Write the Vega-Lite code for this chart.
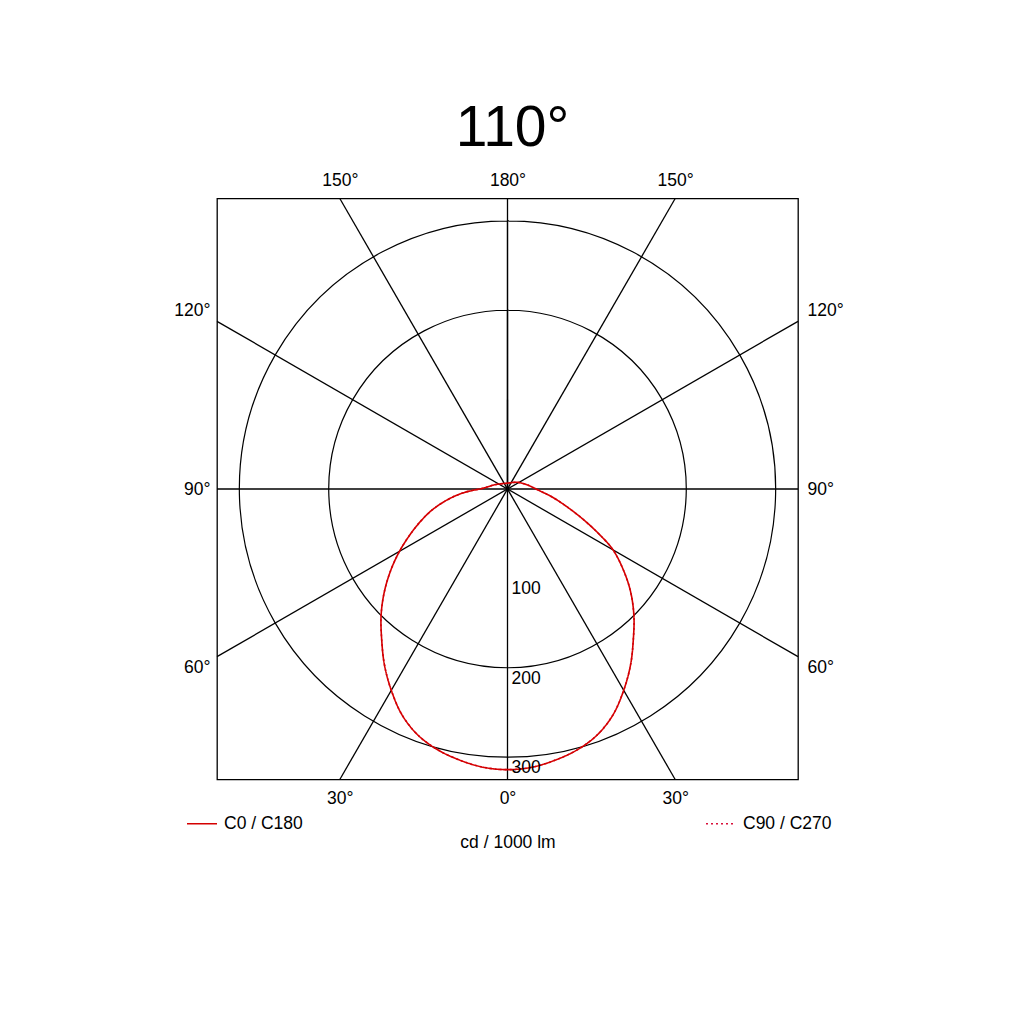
{
  "$schema": "https://vega.github.io/schema/vega-lite/v6.json",
  "width": 581,
  "height": 581,
  "autosize": {"type": "none"},
  "padding": {"left": 217, "top": 198.5, "right": 226, "bottom": 244.5},
  "background": "white",
  "title": {
    "text": "110°",
    "fontSize": 57,
    "font": "Liberation Sans",
    "fontWeight": "normal",
    "color": "black",
    "anchor": "middle",
    "baseline": "alphabetic",
    "offset": -31,
    "dx": 5
  },
  "config": {
    "view": {"stroke": "black", "strokeWidth": 1.3},
    "font": "Liberation Sans",
    "axis": {
      "domain": false,
      "ticks": false,
      "grid": false,
      "labelFont": "Liberation Sans",
      "labelFontSize": 17.5,
      "labelColor": "black",
      "labelAngle": 0,
      "labelOverlap": false,
      "labelBound": false,
      "labelFlush": false,
      "title": null
    },
    "legend": {
      "orient": "none",
      "legendX": -31,
      "legendY": 609,
      "direction": "horizontal",
      "columns": 2,
      "columnPadding": 399,
      "symbolType": "stroke",
      "symbolSize": 900,
      "symbolStrokeWidth": 1.6,
      "labelFont": "Liberation Sans",
      "labelFontSize": 17.5,
      "labelColor": "black",
      "labelOffset": 6,
      "title": null
    }
  },
  "resolve": {"axis": {"x": "independent", "y": "independent"}},
  "layer": [
    {
      "data": {"values": [{"r": 100}, {"r": 200}, {"r": 300}]},
      "mark": {"type": "arc", "filled": false, "stroke": "black", "strokeWidth": 1.2, "theta": 0, "theta2": 6.28318},
      "encoding": {
        "radius": {"field": "r", "type": "quantitative", "stack": null, "scale": {"type": "linear", "zero": true, "domain": [0, 325], "range": [0, 290.5]}}
      }
    },
    {
      "data": {"values": [
        {"x1": 0, "y1": -325, "x2": 0, "y2": 325},
        {"x1": -325, "y1": 0, "x2": 325, "y2": 0},
        {"x1": -187.6, "y1": -325, "x2": 187.6, "y2": 325},
        {"x1": 187.6, "y1": -325, "x2": -187.6, "y2": 325},
        {"x1": -325, "y1": -187.6, "x2": 325, "y2": 187.6},
        {"x1": 325, "y1": -187.6, "x2": -325, "y2": 187.6}
      ]},
      "mark": {"type": "rule", "color": "black", "strokeWidth": 1.3},
      "encoding": {
        "x": {"field": "x1", "type": "quantitative", "scale": {"domain": [-325, 325], "nice": false, "zero": false},
              "axis": {"orient": "bottom", "values": [-187.6, 0, 187.6], "labelPadding": 10,
                       "labelExpr": "datum.value == 0 ? '0°' : '30°'",
                       "title": "cd / 1000 lm", "titleFont": "Liberation Sans", "titleFontSize": 17.5,
                       "titleFontWeight": "normal", "titleColor": "black", "titlePadding": 26}},
        "y": {"field": "y1", "type": "quantitative", "scale": {"domain": [-325, 325], "nice": false, "zero": false, "reverse": true},
              "axis": {"orient": "left", "values": [-200, 0, 200], "labelPadding": 7,
                       "labelExpr": "datum.value == 0 ? '90°' : (datum.value > 0 ? '60°' : '120°')"}},
        "x2": {"field": "x2"},
        "y2": {"field": "y2"}
      }
    },
    {
      "data": {"values": [
        {"series": "C90 / C270", "o": 1, "x": 0, "y": -6.5},
        {"series": "C90 / C270", "o": 2, "x": -13, "y": -5},
        {"series": "C90 / C270", "o": 3, "x": -27, "y": -1},
        {"series": "C90 / C270", "o": 4, "x": -50, "y": 4.4},
        {"series": "C90 / C270", "o": 5, "x": -68, "y": 12.5},
        {"series": "C90 / C270", "o": 6, "x": -85, "y": 24},
        {"series": "C90 / C270", "o": 7, "x": -98, "y": 37},
        {"series": "C90 / C270", "o": 8, "x": -109, "y": 51},
        {"series": "C90 / C270", "o": 9, "x": -121, "y": 70},
        {"series": "C90 / C270", "o": 10, "x": -131, "y": 92},
        {"series": "C90 / C270", "o": 11, "x": -138, "y": 116},
        {"series": "C90 / C270", "o": 12, "x": -141.4, "y": 141.4},
        {"series": "C90 / C270", "o": 13, "x": -140.8, "y": 167.8},
        {"series": "C90 / C270", "o": 14, "x": -137.7, "y": 196.6},
        {"series": "C90 / C270", "o": 15, "x": -130, "y": 225.2},
        {"series": "C90 / C270", "o": 16, "x": -117.9, "y": 252.9},
        {"series": "C90 / C270", "o": 17, "x": -100.2, "y": 275.3},
        {"series": "C90 / C270", "o": 18, "x": -78.2, "y": 291.7},
        {"series": "C90 / C270", "o": 19, "x": -53.5, "y": 303.3},
        {"series": "C90 / C270", "o": 20, "x": -27.2, "y": 311.3},
        {"series": "C90 / C270", "o": 21, "x": 0, "y": 314},
        {"series": "C90 / C270", "o": 22, "x": 27.2, "y": 311.3},
        {"series": "C90 / C270", "o": 23, "x": 53.5, "y": 303.3},
        {"series": "C90 / C270", "o": 24, "x": 78.2, "y": 291.7},
        {"series": "C90 / C270", "o": 25, "x": 100.2, "y": 275.3},
        {"series": "C90 / C270", "o": 26, "x": 117.9, "y": 252.9},
        {"series": "C90 / C270", "o": 27, "x": 130, "y": 225.2},
        {"series": "C90 / C270", "o": 28, "x": 137.7, "y": 196.6},
        {"series": "C90 / C270", "o": 29, "x": 140.8, "y": 167.8},
        {"series": "C90 / C270", "o": 30, "x": 141.4, "y": 141.4},
        {"series": "C90 / C270", "o": 31, "x": 137.5, "y": 114},
        {"series": "C90 / C270", "o": 32, "x": 129.4, "y": 90},
        {"series": "C90 / C270", "o": 33, "x": 118, "y": 68},
        {"series": "C90 / C270", "o": 34, "x": 103, "y": 51},
        {"series": "C90 / C270", "o": 35, "x": 84.7, "y": 34},
        {"series": "C90 / C270", "o": 36, "x": 66, "y": 19.5},
        {"series": "C90 / C270", "o": 37, "x": 50, "y": 9},
        {"series": "C90 / C270", "o": 38, "x": 36, "y": 2},
        {"series": "C90 / C270", "o": 39, "x": 21, "y": -5},
        {"series": "C90 / C270", "o": 40, "x": 11, "y": -7.5},
        {"series": "C90 / C270", "o": 41, "x": 0, "y": -6.5},
        {"series": "C0 / C180", "o": 1, "x": 0, "y": -6.5},
        {"series": "C0 / C180", "o": 2, "x": -13, "y": -5},
        {"series": "C0 / C180", "o": 3, "x": -27, "y": -1},
        {"series": "C0 / C180", "o": 4, "x": -50, "y": 4.4},
        {"series": "C0 / C180", "o": 5, "x": -68, "y": 12.5},
        {"series": "C0 / C180", "o": 6, "x": -85, "y": 24},
        {"series": "C0 / C180", "o": 7, "x": -98, "y": 37},
        {"series": "C0 / C180", "o": 8, "x": -109, "y": 51},
        {"series": "C0 / C180", "o": 9, "x": -121, "y": 70},
        {"series": "C0 / C180", "o": 10, "x": -131, "y": 92},
        {"series": "C0 / C180", "o": 11, "x": -138, "y": 116},
        {"series": "C0 / C180", "o": 12, "x": -141.4, "y": 141.4},
        {"series": "C0 / C180", "o": 13, "x": -140.8, "y": 167.8},
        {"series": "C0 / C180", "o": 14, "x": -137.7, "y": 196.6},
        {"series": "C0 / C180", "o": 15, "x": -130, "y": 225.2},
        {"series": "C0 / C180", "o": 16, "x": -117.9, "y": 252.9},
        {"series": "C0 / C180", "o": 17, "x": -100.2, "y": 275.3},
        {"series": "C0 / C180", "o": 18, "x": -78.2, "y": 291.7},
        {"series": "C0 / C180", "o": 19, "x": -53.5, "y": 303.3},
        {"series": "C0 / C180", "o": 20, "x": -27.2, "y": 311.3},
        {"series": "C0 / C180", "o": 21, "x": 0, "y": 314},
        {"series": "C0 / C180", "o": 22, "x": 27.2, "y": 311.3},
        {"series": "C0 / C180", "o": 23, "x": 53.5, "y": 303.3},
        {"series": "C0 / C180", "o": 24, "x": 78.2, "y": 291.7},
        {"series": "C0 / C180", "o": 25, "x": 100.2, "y": 275.3},
        {"series": "C0 / C180", "o": 26, "x": 117.9, "y": 252.9},
        {"series": "C0 / C180", "o": 27, "x": 130, "y": 225.2},
        {"series": "C0 / C180", "o": 28, "x": 137.7, "y": 196.6},
        {"series": "C0 / C180", "o": 29, "x": 140.8, "y": 167.8},
        {"series": "C0 / C180", "o": 30, "x": 141.4, "y": 141.4},
        {"series": "C0 / C180", "o": 31, "x": 137.5, "y": 114},
        {"series": "C0 / C180", "o": 32, "x": 129.4, "y": 90},
        {"series": "C0 / C180", "o": 33, "x": 118, "y": 68},
        {"series": "C0 / C180", "o": 34, "x": 103, "y": 51},
        {"series": "C0 / C180", "o": 35, "x": 84.7, "y": 34},
        {"series": "C0 / C180", "o": 36, "x": 66, "y": 19.5},
        {"series": "C0 / C180", "o": 37, "x": 50, "y": 9},
        {"series": "C0 / C180", "o": 38, "x": 36, "y": 2},
        {"series": "C0 / C180", "o": 39, "x": 21, "y": -5},
        {"series": "C0 / C180", "o": 40, "x": 11, "y": -7.5},
        {"series": "C0 / C180", "o": 41, "x": 0, "y": -6.5}
      ]},
      "mark": {"type": "line", "strokeWidth": 1.6, "interpolate": "catmull-rom"},
      "encoding": {
        "x": {"field": "x", "type": "quantitative", "scale": {"domain": [-325, 325], "nice": false, "zero": false},
              "axis": {"orient": "top", "values": [-187.6, 0, 187.6], "labelPadding": 9,
                       "labelExpr": "datum.value == 0 ? '180°' : '150°'"}},
        "y": {"field": "y", "type": "quantitative", "scale": {"domain": [-325, 325], "nice": false, "zero": false, "reverse": true},
              "axis": {"orient": "right", "values": [-200, 0, 200], "labelPadding": 9,
                       "labelExpr": "datum.value == 0 ? '90°' : (datum.value > 0 ? '60°' : '120°')"}},
        "order": {"field": "o", "type": "quantitative"},
        "detail": {"field": "series"},
        "color": {"field": "series", "type": "nominal",
                  "scale": {"domain": ["C0 / C180", "C90 / C270"], "range": ["#d40000", "#d8103a"]}},
        "strokeDash": {"field": "series", "type": "nominal",
                  "scale": {"domain": ["C0 / C180", "C90 / C270"], "range": [[1, 0], [2, 3]]}}
      }
    },
    {
      "data": {"values": [
        {"r": 100, "label": "100"},
        {"r": 200, "label": "200"},
        {"r": 300, "label": "300"}
      ]},
      "mark": {"type": "text", "align": "left", "baseline": "top", "dx": 4, "dy": 2, "fontSize": 17.5, "font": "Liberation Sans", "color": "black"},
      "encoding": {
        "x": {"datum": 0, "type": "quantitative", "axis": null},
        "y": {"field": "r", "type": "quantitative", "axis": null},
        "text": {"field": "label"}
      }
    }
  ]
}
